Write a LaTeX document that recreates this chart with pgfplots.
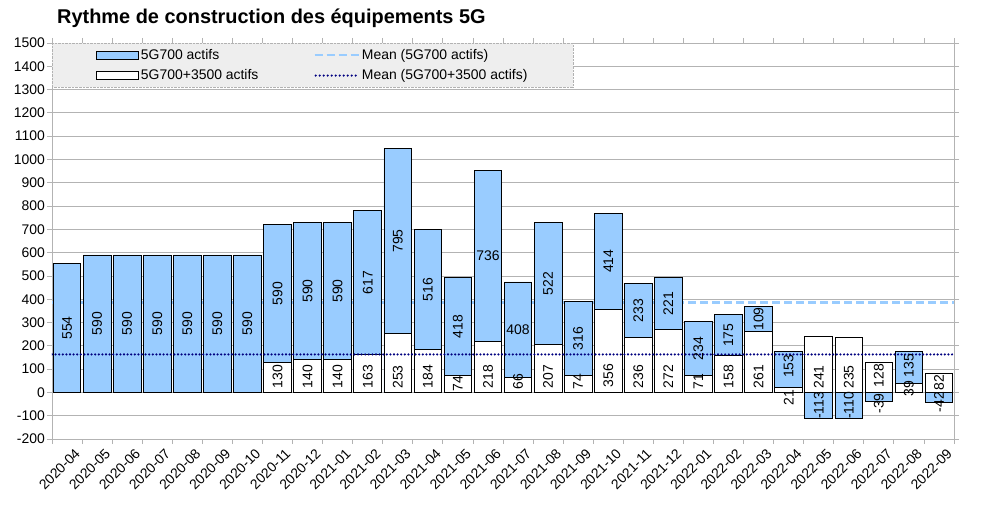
\documentclass[border=0pt]{standalone}
\usepackage{fontspec}
\setmainfont{Liberation Sans}
\usepackage{pgfplots}
\pgfplotsset{compat=1.18}
\usepackage{pgfplotstable}
\definecolor{barblue}{HTML}{99CCFF}
\definecolor{meannavy}{HTML}{000080}
\definecolor{gridgray}{HTML}{B3B3B3}
\definecolor{legfill}{HTML}{EEEEEE}
\newcommand\lab{\fontsize{14}{16}\selectfont}

% blue bar height = total (white+blue) when blue > 0, otherwise blue value
\pgfplotstableread{
x bar
0 554
1 590
2 590
3 590
4 590
5 590
6 590
7 720
8 730
9 730
10 780
11 1048
12 700
13 492
14 954
15 474
16 729
17 390
18 770
19 469
20 493
21 305
22 333
23 370
24 174
25 -113
26 -110
27 -39
28 174
29 -42
}\bluebars

\pgfplotstableread{
x w
7 130
8 140
9 140
10 163
11 253
12 184
13 74
14 218
15 66
16 207
17 74
18 356
19 236
20 272
21 71
22 158
23 261
24 21
25 241
26 235
27 128
28 39
29 82
}\whitebars

\pgfplotstableread{
x y lab
0 277 554
1 295 590
2 295 590
3 295 590
4 295 590
5 295 590
6 295 590
7 425 590
8 435 590
9 435 590
10 471 617
11 650 795
12 442 516
13 283 418
16 468 522
17 232 316
18 563 414
19 352 233
20 382 221
21 188 234
22 245 175
23 315 109
24 112 153
25 -56 -113
26 -55 -110
27 -47 -39
28 115 135
29 -42 -42
}\bluelabrot

\pgfplotstableread{
x y lab
14 586 736
15 270 408
}\bluelabhor

\pgfplotstableread{
x y lab
7 68 130
8 68 140
9 68 140
10 68 163
11 66 253
12 68 184
13 38 74
14 68 218
15 47 66
16 68 207
17 47 74
18 72 356
19 68 236
20 68 272
21 47 71
22 68 158
23 68 261
24 -22 21
25 66 241
26 66 235
27 72 128
28 15 39
29 43 82
}\whitelab

\begin{document}
\begin{tikzpicture}
\useasboundingbox (-52bp,-68bp) rectangle (933bp,439bp);
\begin{axis}[
  width=902bp, height=396bp, scale only axis,
  xmin=-0.5, xmax=29.5, ymin=-200, ymax=1500,
  ytick={-200,-100,...,1500},
  xtick={-0.5,0.5,...,29.5},
  xticklabels={},
  extra x ticks={0,1,...,29},
  extra x tick labels={2020-04,2020-05,2020-06,2020-07,2020-08,2020-09,2020-10,2020-11,2020-12,2021-01,2021-02,2021-03,2021-04,2021-05,2021-06,2021-07,2021-08,2021-09,2021-10,2021-11,2021-12,2022-01,2022-02,2022-03,2022-04,2022-05,2022-06,2022-07,2022-08,2022-09},
  extra x tick style={major tick length=0pt, grid=none,
     xticklabel style={rotate=45, anchor=north east, inner sep=1bp, yshift=-10bp, xshift=0bp, font=\lab}},
  tick align=outside,
  major tick length=5bp,
  tick style={draw=gridgray, line width=0.8bp},
  ymajorgrids,
  grid style={draw=gridgray, line width=0.8bp},
  axis line style={draw=gridgray, line width=0.8bp},
  yticklabel style={font=\lab, inner sep=2bp},
  /pgf/number format/assume math mode=true,
  /pgf/number format/1000 sep={},
  title={Rythme de construction des équipements 5G},
  title style={font=\bfseries\fontsize{20}{24}\selectfont, at={(0,1)}, anchor=south west, inner sep=0pt, xshift=5bp, yshift=9bp},
  legend columns=2,
  legend cell align=left,
  legend style={at={(0,1)}, anchor=north west, fill=legfill, draw=gray!60, densely dotted,
     inner xsep=44bp, inner ysep=4bp, font=\lab, row sep=5bp,
     /tikz/every even column/.append style={column sep=53bp}},
]
\addlegendimage{legend image code/.code={\draw[solid, fill=barblue, draw=black, line width=0.8bp] (0bp,-4bp) rectangle (42bp,4bp);}}
\addlegendentry{5G700 actifs}
\addlegendimage{legend image code/.code={\draw[barblue, line width=2.5bp, dash pattern=on 8bp off 4bp] (0bp,0bp) -- (44bp,0bp);}}
\addlegendentry{Mean (5G700 actifs)}
\addlegendimage{legend image code/.code={\draw[solid, fill=white, draw=black, line width=0.8bp] (0bp,-4bp) rectangle (42bp,4bp);}}
\addlegendentry{5G700+3500 actifs}
\addlegendimage{legend image code/.code={\draw[meannavy, line width=2.4bp, line cap=round, dash pattern=on 0bp off 4bp] (1bp,0bp) -- (44bp,0bp);}}
\addlegendentry{Mean (5G700+3500 actifs)}

% mean of 5G700 actifs (behind bars)
\addplot[forget plot, barblue, line width=2.5bp, dash pattern=on 8bp off 4bp, mark=none] coordinates {(-0.5,385.4) (29.5,385.4)};

\addplot[forget plot, ybar, bar width=0.92, bar shift=0pt, fill=barblue, draw=black, line width=0.8bp] table[x=x, y=bar] \bluebars;
\addplot[forget plot, ybar, bar width=0.92, bar shift=0pt, fill=white, draw=black, line width=0.8bp] table[x=x, y=w] \whitebars;

% mean of 5G700+3500 actifs
\addplot[forget plot, meannavy, line width=2.4bp, line cap=round, dash pattern=on 0bp off 3.6bp, mark=none] coordinates {(-0.5,163) (29.5,163)};

\addplot[forget plot, draw=none, mark=none, nodes near coords, point meta=explicit symbolic,
  every node near coord/.append style={rotate=90, anchor=center, font=\lab, inner sep=0pt}]
  table[x=x, y=y, meta=lab] \bluelabrot;
\addplot[forget plot, draw=none, mark=none, nodes near coords, point meta=explicit symbolic,
  every node near coord/.append style={anchor=center, font=\lab, inner sep=0pt}]
  table[x=x, y=y, meta=lab] \bluelabhor;
\addplot[forget plot, draw=none, mark=none, nodes near coords, point meta=explicit symbolic,
  every node near coord/.append style={rotate=90, anchor=center, font=\lab, inner sep=0pt}]
  table[x=x, y=y, meta=lab] \whitelab;
\end{axis}
\end{tikzpicture}
\end{document}
